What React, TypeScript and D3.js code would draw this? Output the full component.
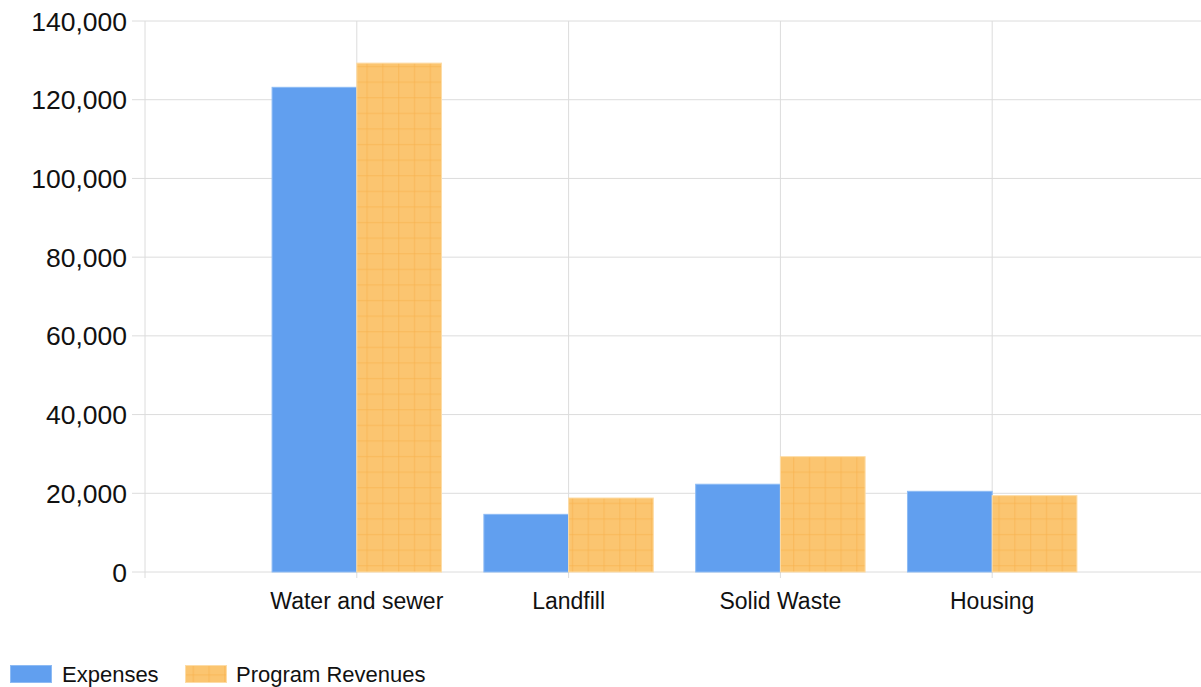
import React from "react";
import * as d3 from "d3";

const categories = ["Water and sewer", "Landfill", "Solid Waste", "Housing"];
const seriesNames = ["Expenses", "Program Revenues"];
const expenses = [123150, 14650, 22300, 20500];
const programRevenues = [129300, 18800, 29300, 19400];
const yTicks = [0, 20000, 40000, 60000, 80000, 100000, 120000, 140000];

const W = 1201;
const H = 687;
const FONT = "'Liberation Sans', Arial, Helvetica, sans-serif";
const BLUE = "#619FEF";
const ORANGE = "#FBC570";
const GRID = "#dcdcdc";

export default function App() {
  const x = d3.scaleLinear().domain([0, categories.length + 1]).range([145, 145 + 5 * 211.8]);
  const y = d3.scaleLinear().domain([0, 140000]).range([572, 21]);
  const unit = x(1) - x(0);
  const inner = d3.scaleBand<string>().domain(seriesNames).range([-0.4 * unit, 0.4 * unit]).padding(0);
  const values = [expenses, programRevenues];
  const fmt = d3.format(",");
  const gridX = d3.range(0, categories.length + 1);

  return (
    <svg width={W} height={H} style={{ position: "absolute", left: 0, top: 0, background: "#fff" }}>
      <defs>
        <pattern id="grid-pat" patternUnits="userSpaceOnUse" width={15.8} height={15.6} x={3} y={3.5}>
          <rect width={15.8} height={15.6} fill={ORANGE} />
          <line x1={0} y1={0.5} x2={15.8} y2={0.5} stroke="#F6B04A" strokeOpacity={0.45} strokeWidth={1.6} />
          <line x1={0.5} y1={0} x2={0.5} y2={15.6} stroke="#F6B04A" strokeOpacity={0.45} strokeWidth={1.6} />
        </pattern>
      </defs>

      {/* horizontal grid and y ticks */}
      {yTicks.map((t) => (
        <g key={t}>
          <line x1={132} x2={W} y1={y(t)} y2={y(t)} stroke={GRID} strokeWidth={1} />
          <text x={127} y={y(t) + 9.6} textAnchor="end" fontFamily={FONT} fontSize={26.5} fill="#111">
            {fmt(t)}
          </text>
        </g>
      ))}

      {/* vertical grid lines */}
      {gridX.map((i) => (
        <line key={i} x1={x(i)} x2={x(i)} y1={y(140000)} y2={578} stroke={GRID} strokeWidth={1} />
      ))}

      {/* bars */}
      {seriesNames.map((s, si) =>
        categories.map((c, ci) => {
          const v = values[si][ci];
          const x0 = x(ci + 1) + (inner(s) as number);
          return (
            <rect
              key={s + c}
              x={x0}
              y={y(v)}
              width={inner.bandwidth()}
              height={y(0) - y(v)}
              fill={si === 0 ? BLUE : "url(#grid-pat)"}
              stroke={si === 0 ? "#8DBBF4" : "#FDDCA6"}
              strokeWidth={1}
            />
          );
        })
      )}

      {/* category labels */}
      {categories.map((c, ci) => (
        <text key={c} x={x(ci + 1)} y={609} textAnchor="middle" fontFamily={FONT} fontSize={23} fill="#111">
          {c}
        </text>
      ))}

      {/* legend */}
      <g>
        <rect x={10.5} y={665.5} width={41} height={17} fill={BLUE} stroke="#8DBBF4" />
        <text x={62} y={682} fontFamily={FONT} fontSize={22} fill="#111">{seriesNames[0]}</text>
        <rect x={185.5} y={665.5} width={41} height={17} fill="url(#grid-pat)" stroke="#FDDCA6" />
        <text x={236} y={682} fontFamily={FONT} fontSize={22} fill="#111">{seriesNames[1]}</text>
      </g>
    </svg>
  );
}
